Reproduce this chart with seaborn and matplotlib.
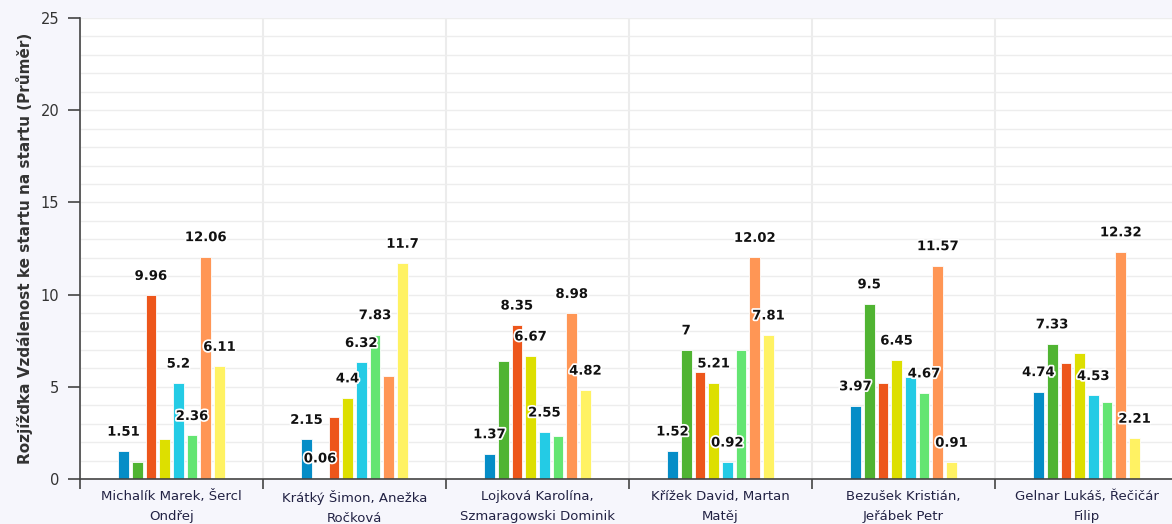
import pandas as pd
import matplotlib.pyplot as plt
import matplotlib.patheffects as pe
import seaborn as sns

# ==============================
# Data
# ==============================
pairs = ["Michalík Marek, Šercl\nOndřej",
         "Krátký Šimon, Anežka\nRočková",
         "Lojková Karolína,\nSzmaragowski Dominik",
         "Křížek David, Martan\nMatěj",
         "Bezušek Kristián,\nJeřábek Petr",
         "Gelnar Lukáš, Řečičár\nFilip"]
series = ["Rozjížďka 1", "Rozjížďka 2", "Rozjížďka 3", "Rozjížďka 4",
          "Rozjížďka 5", "Rozjížďka 6", "Rozjížďka 7", "Rozjížďka 8"]

s1 = [1.51, 2.15, 1.37, 1.52, 3.97, 4.74]
s2 = [0.92, 0.06, 6.40, 7.00, 9.50, 7.33]
s3 = [9.96, 3.36, 8.35, 5.80, 5.20, 6.29]
s4 = [2.17, 4.40, 6.67, 5.21, 6.45, 6.83]
s5 = [5.20, 6.32, 2.55, 0.92, 5.53, 4.53]
s6 = [2.36, 7.83, 2.33, 7.02, 4.67, 4.18]
s7 = [12.06, 5.58, 8.98, 12.02, 11.57, 12.32]
s8 = [6.11, 11.70, 4.82, 7.81, 0.91, 2.21]

# which value labels are visible (the chart hid the overlapping ones)
shown1 = [1, 1, 1, 1, 1, 1]
shown2 = [0, 1, 0, 1, 1, 1]
shown3 = [1, 0, 1, 0, 0, 0]
shown4 = [0, 1, 1, 1, 1, 0]
shown5 = [1, 1, 1, 1, 0, 1]
shown6 = [1, 1, 0, 0, 1, 0]
shown7 = [1, 0, 1, 1, 1, 1]
shown8 = [1, 1, 1, 1, 1, 1]

colors = ['#058DC7', '#50B432', '#ED561B', '#DDDF00',
          '#24CBE5', '#64E572', '#FF9655', '#FFF263']

all_vals = [s1, s2, s3, s4, s5, s6, s7, s8]
all_shown = [shown1, shown2, shown3, shown4, shown5, shown6, shown7, shown8]

rows = []
for name, vals in zip(series, all_vals):
    for p, v in zip(pairs, vals):
        rows.append({"pair": p, "series": name, "value": v})
df = pd.DataFrame(rows)

# ==============================
# Plot
# ==============================
sns.set_style("white")
plt.rcParams['font.family'] = ['DejaVu Sans']

fig = plt.figure(figsize=(11.72, 5.24), dpi=100, facecolor='#f6f6fc')
ax = fig.add_axes([80 / 1172, 45 / 524, 1098 / 1172, 461 / 524])
ax.set_facecolor('white')

sns.barplot(data=df, x="pair", y="value", hue="series", palette=colors,
            saturation=1, width=0.6, gap=0.22, edgecolor='#fdfdfd',
            linewidth=0.6, legend=False, ax=ax, errorbar=None)

for cont, shown in zip(ax.containers, all_shown):
    labels = [f"{v:g}" if s else "" for v, s in zip(cont.datavalues, shown)]
    texts = ax.bar_label(cont, labels=labels, padding=9, fontsize=9.5,
                         fontweight='bold', color='#111111')
    for t in texts:
        t.set_path_effects([pe.withStroke(linewidth=2.5, foreground='white')])

ax.set_xlim(-0.5, len(pairs) - 0.5)
ax.set_ylim(0, 25)
ax.set_yticks([0, 5, 10, 15, 20, 25])
ax.set_yticks(range(0, 26), minor=True)
ax.grid(axis='y', which='both', color='#ededed', linewidth=1)
ax.set_axisbelow(True)

# category boundaries as major ticks, names as minor ticks
ax.set_xticks([i - 0.5 for i in range(len(pairs) + 1)])
ax.set_xticklabels([])
ax.set_xticks(range(len(pairs)), minor=True)
ax.set_xticklabels(pairs, minor=True, fontsize=9.5, color='#222244',
                   linespacing=1.7)
ax.grid(axis='x', which='major', color='#ececec', linewidth=1.5)
ax.tick_params(axis='x', which='major', length=7, width=1.2, color='#444444',
               direction='out', bottom=True)
ax.tick_params(axis='x', which='minor', length=0, pad=8)
ax.tick_params(axis='y', which='major', length=9, width=1.2, color='#444444',
               labelsize=10.5, labelcolor='#333333', pad=6, left=True)
ax.tick_params(axis='y', which='minor', length=0)

for side in ['top', 'right']:
    ax.spines[side].set_visible(False)
for side in ['left', 'bottom']:
    ax.spines[side].set_color('#444444')
    ax.spines[side].set_linewidth(1.2)

ax.set_xlabel("")
ax.set_ylabel("Rozjížďka Vzdálenost ke startu na startu (Průměr)",
              fontsize=11, fontweight='bold', color='#333333', labelpad=5)

fig.savefig("out.png", dpi=100, facecolor=fig.get_facecolor())
